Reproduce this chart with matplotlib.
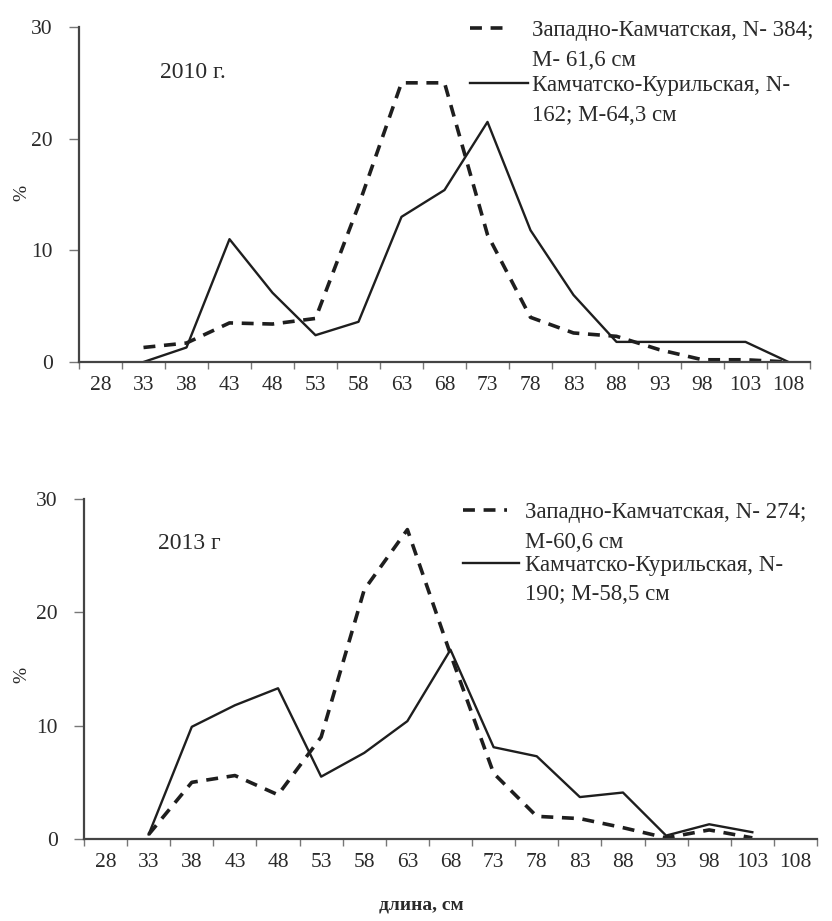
import numpy as np
import matplotlib
matplotlib.use("Agg")
import matplotlib.pyplot as plt
from matplotlib.lines import Line2D

nan = np.nan
categories = ["28", "33", "38", "43", "48", "53", "58", "63", "68", "73",
              "78", "83", "88", "93", "98", "103", "108"]

wk_2010 = [nan, 1.3, 1.7, 3.5, 3.4, 3.9, 14.0, 25.0, 25.0, 11.4, 4.0, 2.6, 2.3, 1.1, 0.2, 0.2, 0.0]
kk_2010 = [nan, 0.0, 1.3, 11.0, 6.2, 2.4, 3.6, 13.0, 15.4, 21.5, 11.8, 6.0, 1.8, 1.8, 1.8, 1.8, 0.0]
wk_2013 = [nan, 0.4, 5.0, 5.6, 3.9, 9.0, 22.0, 27.3, 16.3, 5.8, 2.0, 1.8, 1.0, 0.1, 0.8, 0.1, nan]
kk_2013 = [nan, 0.4, 9.9, 11.8, 13.3, 5.5, 7.6, 10.4, 16.7, 8.1, 7.3, 3.7, 4.1, 0.3, 1.3, 0.6, nan]

year_labels = ["2010 г.", "2013 г"]
leg_wk = [["Западно-Камчатская, N- 384;", "M- 61,6 см"], ["Западно-Камчатская, N- 274;", "M-60,6 см"]]
leg_kk = [["Камчатско-Курильская, N-", "162; M-64,3 см"], ["Камчатско-Курильская, N-", "190; M-58,5 см"]]

plt.rcParams['font.family'] = ['Liberation Serif', 'DejaVu Serif']
TXT = '#2a2a2a'
LINE = '#1e1e1e'
AX = '#444444'

fig = plt.figure(figsize=(8.32, 9.21), dpi=100)
fig.patch.set_facecolor('white')

W, H = 832.0, 921.0
boxes = [
    (79, 810, 27, 362),
    (84, 817, 499, 839),
]
legend_pos = [
    # dashed y, solid y, sample x0, dashed x1, solid x1, text x
    (28, 83, 470, 510, 528, 532),
    (510, 563, 463, 507, 519, 525),
]
year_pos = [(160, 72), (158, 543)]

x = np.arange(len(categories))
series = [(wk_2010, kk_2010), (wk_2013, kk_2013)]

for i, (l, r, t, b) in enumerate(boxes):
    ax = fig.add_axes([l / W, 1 - b / H, (r - l) / W, (b - t) / H])
    wk, kk = series[i]
    ax.plot(x, wk, color=LINE, lw=2.6, dashes=(3.3, 2.4), solid_capstyle='butt', dash_capstyle='butt')
    ax.plot(x, kk, color=LINE, lw=1.7)
    ax.set_xlim(-0.5, len(categories) - 0.5)
    ax.set_ylim(0, 30)
    ax.set_yticks([0, 10, 20, 30])
    ax.set_xticks(np.arange(-0.5, len(categories)), labels=[])
    ax.set_xticks(x, labels=categories, minor=True)
    ax.tick_params(axis='x', which='major', length=5, width=1.0, color='#777777', direction='out')
    ax.tick_params(axis='x', which='minor', length=0, pad=10, labelsize=15.5, labelcolor=TXT)
    ax.tick_params(axis='y', length=7, width=1.0, color='#777777', pad=12, labelsize=15.5, labelcolor=TXT)
    for s in ['top', 'right']:
        ax.spines[s].set_visible(False)
    for s in ['left', 'bottom']:
        ax.spines[s].set_color(AX)
        ax.spines[s].set_linewidth(1.6)
    ax.set_facecolor('none')

    # year label
    yx, yy = year_pos[i]
    fig.text(yx / W, 1 - yy / H, year_labels[i], fontsize=17, color=TXT, va='center', ha='left')
    # % label
    fig.text(22 / W, 1 - (193 if i == 0 else 675) / H, "%", fontsize=14, color=TXT,
             rotation=90, va='center', ha='center')

    # legend
    dy, sy, x0, dx1, sx1, tx = legend_pos[i]
    fig.add_artist(Line2D([x0 / W, dx1 / W], [1 - dy / H, 1 - dy / H], color=LINE, lw=2.6,
                          dashes=(3.3, 2.4), transform=fig.transFigure))
    fig.add_artist(Line2D([x0 / W, sx1 / W], [1 - sy / H, 1 - sy / H], color=LINE, lw=1.7,
                          transform=fig.transFigure))
    for k, line in enumerate(leg_wk[i]):
        fig.text(tx / W, 1 - (dy + 29.5 * k) / H, line, fontsize=16.5, color=TXT,
                 va='center_baseline', ha='left')
    for k, line in enumerate(leg_kk[i]):
        fig.text(tx / W, 1 - (sy + 29.5 * k) / H, line, fontsize=16.5, color=TXT,
                 va='center_baseline', ha='left')

fig.text(421 / W, 1 - 905 / H, "длина, см", fontsize=14, color=TXT, weight='bold',
         va='center', ha='center')

fig.savefig("out.png", dpi=100, facecolor='white')
